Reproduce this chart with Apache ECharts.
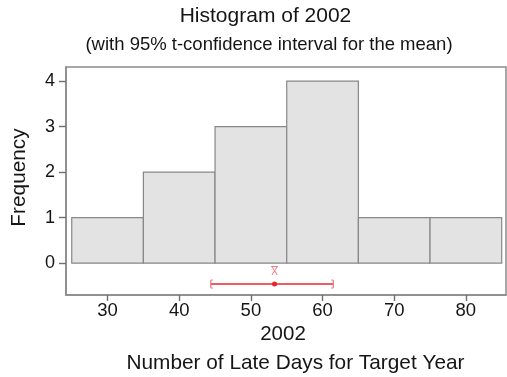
<!DOCTYPE html>
<html><head><meta charset="utf-8">
<script src="https://cdn.jsdelivr.net/npm/echarts@6/dist/echarts.min.js"></script>
<style>html,body{margin:0;padding:0;background:#fff}#c{width:507px;height:377px}</style>
</head><body><div id="c"></div>
<script>
var binStarts = [25, 35, 45, 55, 65, 75];
var binWidth = 10;
var frequencies = [1, 2, 3, 4, 1, 1];
var xTicks = [30, 40, 50, 60, 70, 80];
var yTicks = [0, 1, 2, 3, 4];
var ciLower = [44.4];
var ciUpper = [61.5];
var ciMean = [53.3];
var ciLevel = [-0.46];

var FONT = '"Liberation Sans", Arial, sans-serif';
var INK = '#151515';
var X_MIN = 24.2, X_MAX = 85.6, Y_MIN = -0.7, Y_MAX = 4.31;
var chart = echarts.init(document.getElementById('c'), null, {renderer: 'canvas'});
var histData = binStarts.map(function (s, i) { return [s, s + binWidth, frequencies[i]]; });
var ciData = [[ciLower[0], ciUpper[0], ciMean[0], ciLevel[0]]];

chart.setOption({
  animation: false,
  grid: {left: 66, right: 1, top: 67, bottom: 82, show: true, borderColor: '#8a8a8a', borderWidth: 1.5, backgroundColor: 'transparent'},
  xAxis: {
    type: 'value', min: X_MIN, max: X_MAX,
    axisLine: {show: true, onZero: false, lineStyle: {color: '#8a8a8a', width: 1.5}},
    splitLine: {show: false},
    axisTick: {show: true, inside: false, length: 6, lineStyle: {color: '#6f6f6f', width: 1.4}, customValues: xTicks},
    axisLabel: {fontFamily: FONT, fontSize: 18.5, color: INK, margin: 16, verticalAlign: 'middle', customValues: xTicks}
  },
  yAxis: {
    type: 'value', min: Y_MIN, max: Y_MAX,
    axisLine: {show: true, onZero: false, lineStyle: {color: '#8a8a8a', width: 1.5}},
    splitLine: {show: false},
    axisTick: {show: true, inside: false, length: 7, lineStyle: {color: '#6f6f6f', width: 1.4}, customValues: yTicks},
    axisLabel: {fontFamily: FONT, fontSize: 18, color: INK, margin: 11, customValues: yTicks}
  },
  graphic: [
    {type: 'text', x: 265.5, y: 16, style: {text: 'Histogram of 2002', font: '21px ' + FONT, fill: INK, align: 'center', verticalAlign: 'middle'}},
    {type: 'text', x: 269, y: 45, style: {text: '(with 95% t-confidence interval for the mean)', font: '18.5px ' + FONT, fill: INK, align: 'center', verticalAlign: 'middle'}},
    {type: 'text', x: 283, y: 334, style: {text: '2002', font: '20.5px ' + FONT, fill: INK, align: 'center', verticalAlign: 'middle'}},
    {type: 'text', x: 295.5, y: 363, style: {text: 'Number of Late Days for Target Year', font: '20.8px ' + FONT, fill: INK, align: 'center', verticalAlign: 'middle'}},
    {type: 'text', x: 19, y: 177.5, rotation: Math.PI / 2, style: {text: 'Frequency', font: '20.8px ' + FONT, fill: INK, align: 'center', verticalAlign: 'middle'}}
  ],
  series: [
    {
      type: 'custom', data: histData,
      renderItem: function (params, api) {
        var p0 = api.coord([api.value(0), 0]);
        var p1 = api.coord([api.value(1), api.value(2)]);
        return {type: 'rect', shape: {x: p0[0], y: p1[1], width: p1[0] - p0[0], height: p0[1] - p1[1]},
          style: {fill: '#e3e3e3', stroke: '#888', lineWidth: 1.2}};
      }
    },
    {
      type: 'custom', data: ciData, z: 5,
      renderItem: function (params, api) {
        var a = api.coord([api.value(0), api.value(3)]);
        var b = api.coord([api.value(1), api.value(3)]);
        var m = api.coord([api.value(2), api.value(3)]);
        var red = '#e8242b', pale = '#f07a7e';
        return {type: 'group', children: [
          {type: 'line', shape: {x1: a[0], y1: a[1], x2: b[0], y2: b[1]}, style: {stroke: red, lineWidth: 1.5}},
          {type: 'line', shape: {x1: a[0], y1: a[1] - 4, x2: a[0], y2: a[1] + 4}, style: {stroke: pale, lineWidth: 1.2}},
          {type: 'line', shape: {x1: a[0], y1: a[1] - 4, x2: a[0] + 2, y2: a[1] - 4}, style: {stroke: pale, lineWidth: 1}},
          {type: 'line', shape: {x1: a[0], y1: a[1] + 4, x2: a[0] + 2, y2: a[1] + 4}, style: {stroke: pale, lineWidth: 1}},
          {type: 'line', shape: {x1: b[0], y1: b[1] - 4, x2: b[0], y2: b[1] + 4}, style: {stroke: pale, lineWidth: 1.2}},
          {type: 'line', shape: {x1: b[0], y1: b[1] - 4, x2: b[0] - 2, y2: b[1] - 4}, style: {stroke: pale, lineWidth: 1}},
          {type: 'line', shape: {x1: b[0], y1: b[1] + 4, x2: b[0] - 2, y2: b[1] + 4}, style: {stroke: pale, lineWidth: 1}},
          {type: 'circle', shape: {cx: m[0], cy: m[1], r: 2.5}, style: {fill: red}},
          {type: 'text', x: m[0], y: m[1] - 7, style: {text: 'X', font: '10px ' + FONT, fill: pale, align: 'center', verticalAlign: 'bottom'}},
          {type: 'line', shape: {x1: m[0] - 3.5, y1: m[1] - 17.5, x2: m[0] + 3.5, y2: m[1] - 17.5}, style: {stroke: pale, lineWidth: 1}}
        ]};
      }
    }
  ]
});
</script></body></html>
